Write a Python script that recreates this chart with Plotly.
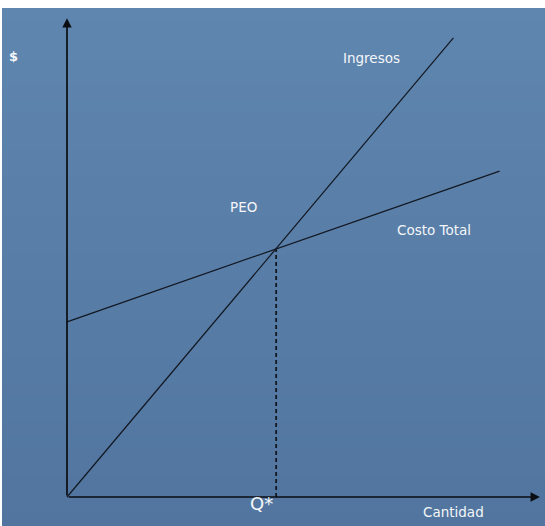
import plotly.graph_objects as go

# ---- data (arbitrary units) ----
cantidad_ingresos = [0.0, 9.2]
ingresos = [0.0, 10.93]
cantidad_costo = [0.0, 10.3]
costo_total = [4.17, 7.76]
q_star = 4.98
peo_valor = 5.9
eje_x_max = 11.26
eje_y_max = 11.4

W, H = 545, 526
X0PX, Y0PX, UNIT = 67, 497, 42.0  # origin pixel and px per unit


def px(xp):
    return xp / W


def py(yp):
    return 1 - yp / H


x_range = [(0 - X0PX) / UNIT, (W - X0PX) / UNIT]
y_range = [(Y0PX - H) / UNIT, Y0PX / UNIT]

fig = go.Figure()

line_col = "#121722"
fig.add_trace(go.Scatter(x=cantidad_ingresos, y=ingresos, mode="lines",
                         line=dict(color=line_col, width=1.2), hoverinfo="skip"))
fig.add_trace(go.Scatter(x=cantidad_costo, y=costo_total, mode="lines",
                         line=dict(color=line_col, width=1.2), hoverinfo="skip"))
fig.add_trace(go.Scatter(x=[q_star, q_star], y=[0, peo_valor], mode="lines",
                         line=dict(color=line_col, width=1.8, dash="4px,3px"),
                         hoverinfo="skip"))

# smooth vertical background gradient (decoration), overlapping bands
top_c = (0x5f, 0x86, 0xaf)
bot_c = (0x51, 0x75, 0x9e)
shapes = []
n = 40
top_px, bot_px = 8, H
for i in range(n):
    y_a = round(top_px + (bot_px - top_px) * i / n)
    y_b = min(bot_px, round(top_px + (bot_px - top_px) * (i + 1) / n) + 4)
    t = (i + 0.5) / n
    c = tuple(round(top_c[k] + (bot_c[k] - top_c[k]) * t) for k in range(3))
    shapes.append(dict(type="rect", xref="paper", yref="paper", x0=px(2), x1=1,
                       y0=py(y_b), y1=py(y_a),
                       fillcolor="rgb(%d,%d,%d)" % c, line=dict(width=0),
                       layer="below"))

annotations = []
# axes with arrows
annotations.append(dict(x=0, y=eje_y_max, ax=0, ay=0, xref="x", yref="y",
                        axref="x", ayref="y", text="", showarrow=True,
                        arrowhead=2, arrowsize=1.1, arrowwidth=1.7,
                        arrowcolor="#0b0d12"))
annotations.append(dict(x=eje_x_max, y=0, ax=0, ay=0, xref="x", yref="y",
                        axref="x", ayref="y", text="", showarrow=True,
                        arrowhead=2, arrowsize=1.1, arrowwidth=1.7,
                        arrowcolor="#0b0d12"))

font_family = "DejaVu Sans, Verdana, sans-serif"
labels = [
    ("<b>$</b>", 13, 56, 13),
    ("Ingresos", 371, 58, 13.5),
    ("PEO", 243, 207, 13.5),
    ("Costo Total", 434, 230, 13.5),
    ("Q*", 261, 503, 18),
    ("Cantidad", 453, 512, 13.5),
]
for t, xp_, yp_, fs in labels:
    annotations.append(dict(x=px(xp_), y=py(yp_), xref="paper", yref="paper",
                            text=t, showarrow=False, xanchor="center",
                            yanchor="middle",
                            font=dict(color="#f4f6fa", size=fs, family=font_family)))

fig.update_layout(
    width=W, height=H,
    margin=dict(l=0, r=0, t=0, b=0),
    paper_bgcolor="white",
    plot_bgcolor="rgba(0,0,0,0)",
    showlegend=False,
    shapes=shapes,
    annotations=annotations,
    xaxis=dict(range=x_range, visible=False, fixedrange=True),
    yaxis=dict(range=y_range, visible=False, fixedrange=True),
)

fig.write_html("out.html")
